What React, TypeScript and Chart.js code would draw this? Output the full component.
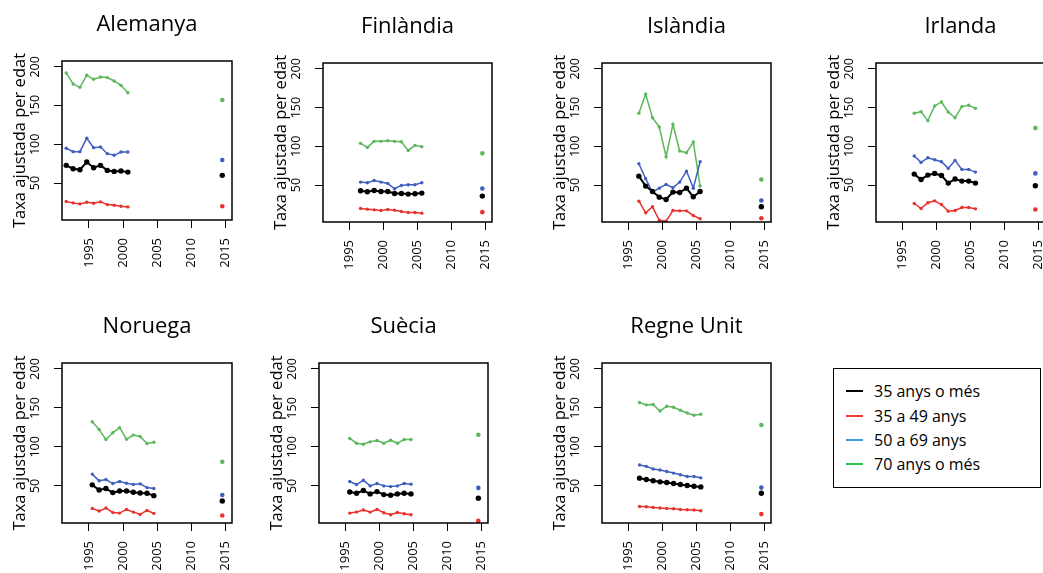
import React, { useEffect, useRef } from 'react';
import { Chart, registerables } from 'chart.js';

Chart.register(...registerables);

// ---------- data ----------
const countries = ['Alemanya', 'Finlàndia', 'Islàndia', 'Irlanda', 'Noruega', 'Suècia', 'Regne Unit'];
const ageGroups = ['35 anys o més', '35 a 49 anys', '50 a 69 anys', '70 anys o més'];
const xTickValues = [1995, 2000, 2005, 2010, 2015];
const yTickValues = [50, 100, 150, 200];
const recentYear = 2014.5;

const yearsAlemanya = [1991.7, 1992.7, 1993.7, 1994.7, 1995.7, 1996.7, 1997.7, 1998.7, 1999.7, 2000.7];
const yearsFinlandia = [1996.6, 1997.6, 1998.6, 1999.6, 2000.6, 2001.6, 2002.6, 2003.6, 2004.6, 2005.6];
const yearsIslandia = [1996.5, 1997.5, 1998.5, 1999.5, 2000.5, 2001.5, 2002.5, 2003.5, 2004.5, 2005.5];
const yearsIrlanda = [1996.7, 1997.7, 1998.7, 1999.7, 2000.7, 2001.7, 2002.7, 2003.7, 2004.7, 2005.7];
const yearsNoruega = [1995.5, 1996.5, 1997.5, 1998.5, 1999.5, 2000.5, 2001.5, 2002.5, 2003.5, 2004.5];
const yearsSuecia = [1995.6, 1996.6, 1997.6, 1998.6, 1999.6, 2000.6, 2001.6, 2002.6, 2003.6, 2004.6];
const yearsRegneUnit = [1996.6, 1997.6, 1998.6, 1999.6, 2000.6, 2001.6, 2002.6, 2003.6, 2004.6, 2005.6];

const alemanya35mes = [72.9, 68.6, 67.3, 77.2, 69.9, 72.9, 66.4, 65.1, 65.6, 64.2];
const alemanya3549 = [26.2, 24.5, 23.2, 25.3, 24.0, 25.8, 22.3, 21.4, 20.1, 19.3];
const alemanya5069 = [95.0, 90.6, 90.6, 107.9, 95.8, 96.7, 88.0, 85.9, 90.2, 90.2];
const alemanya70mes = [192.2, 178.0, 173.6, 189.2, 184.0, 187.0, 186.2, 181.8, 176.2, 166.7];

const finlandia35mes = [42.7, 41.4, 43.1, 41.8, 41.8, 39.2, 39.2, 38.4, 38.8, 39.7];
const finlandia3549 = [19.8, 19.0, 18.1, 17.2, 18.5, 17.7, 15.9, 14.7, 14.7, 13.8];
const finlandia5069 = [53.9, 53.0, 56.0, 53.9, 52.2, 45.3, 49.6, 50.4, 50.4, 53.0];
const finlandia70mes = [103.9, 98.7, 106.5, 106.5, 107.3, 106.5, 106.0, 94.8, 101.3, 99.6];

const islandia35mes = [61.6, 48.7, 41.8, 34.5, 31.5, 41.0, 40.5, 46.1, 34.9, 41.8];
const islandia3549 = [29.3, 14.2, 22.0, 4.7, 3.4, 17.2, 16.8, 16.8, 10.8, 6.5];
const islandia5069 = [77.6, 58.2, 41.0, 46.1, 50.9, 46.6, 53.9, 68.1, 46.1, 80.2];
const islandia70mes = [142.7, 167.2, 137.0, 125.0, 86.6, 128.4, 94.0, 91.8, 105.6, 48.7];

const irlanda35mes = [64.2, 57.3, 62.9, 65.1, 62.5, 52.6, 57.8, 55.2, 55.2, 52.6];
const irlanda3549 = [26.3, 19.8, 27.2, 29.7, 25.0, 16.4, 17.2, 21.1, 21.1, 19.4];
const irlanda5069 = [87.5, 79.3, 85.3, 82.8, 80.2, 71.6, 81.9, 70.3, 70.3, 66.8];
const irlanda70mes = [142.7, 144.8, 133.2, 152.2, 157.3, 144.4, 137.0, 151.3, 153.0, 149.1];

const noruega35mes = [51.3, 44.8, 46.6, 41.4, 43.5, 43.5, 41.8, 40.9, 40.5, 37.5];
const noruega3549 = [21.1, 17.7, 21.6, 15.9, 15.1, 19.8, 16.4, 13.4, 18.5, 14.7];
const noruega5069 = [65.1, 56.5, 58.2, 53.0, 55.6, 53.4, 51.7, 52.6, 47.8, 46.6];
const noruega70mes = [132.3, 122.4, 109.5, 118.1, 124.6, 109.9, 115.1, 113.4, 104.3, 106.0];

const suecia35mes = [42.2, 40.5, 44.0, 39.7, 42.7, 38.8, 37.9, 39.7, 40.5, 39.7];
const suecia3549 = [15.1, 16.4, 19.0, 16.4, 19.8, 15.5, 12.9, 15.9, 14.2, 12.9];
const suecia5069 = [55.6, 51.7, 57.3, 50.0, 53.0, 50.0, 49.1, 50.0, 53.0, 52.2];
const suecia70mes = [110.8, 104.7, 103.4, 106.5, 108.2, 104.7, 108.6, 104.7, 109.5, 109.5];

const regneUnit35mes = [59.9, 58.2, 56.5, 55.2, 54.3, 53.0, 51.7, 50.4, 49.6, 48.7];
const regneUnit3549 = [23.7, 23.3, 22.4, 21.6, 21.1, 20.7, 19.8, 19.4, 19.0, 18.1];
const regneUnit5069 = [76.7, 75.0, 71.6, 70.3, 68.5, 66.4, 64.2, 62.1, 62.1, 60.3];
const regneUnit70mes = [156.9, 153.9, 154.3, 146.1, 152.2, 150.9, 147.0, 143.5, 140.5, 141.8];

// recent (single) values per country, in the order of `countries`
const recent35mes = [60.0, 35.8, 22.0, 49.1, 30.6, 34.1, 40.5];
const recent3549 = [20.1, 15.1, 7.3, 18.5, 12.1, 5.2, 13.8];
const recent5069 = [79.8, 45.7, 30.2, 65.1, 38.4, 47.4, 47.8];
const recent70mes = [157.2, 91.0, 57.3, 123.7, 81.0, 115.5, 128.0];

// tables built from the arrays above
const panelYears = [yearsAlemanya, yearsFinlandia, yearsIslandia, yearsIrlanda, yearsNoruega, yearsSuecia, yearsRegneUnit];
const panelSeries = [
  [alemanya35mes, alemanya3549, alemanya5069, alemanya70mes],
  [finlandia35mes, finlandia3549, finlandia5069, finlandia70mes],
  [islandia35mes, islandia3549, islandia5069, islandia70mes],
  [irlanda35mes, irlanda3549, irlanda5069, irlanda70mes],
  [noruega35mes, noruega3549, noruega5069, noruega70mes],
  [suecia35mes, suecia3549, suecia5069, suecia70mes],
  [regneUnit35mes, regneUnit3549, regneUnit5069, regneUnit70mes],
];
const recentSeries = [recent35mes, recent3549, recent5069, recent70mes];

// ---------- layout & style ----------
const FONT = "'Open Sans', 'DejaVu Sans', sans-serif";
const X_MIN = 1991.08;
const X_MAX = 2015.92;
const Y_MIN = 2.4;
const Y_MAX = 207.6;
const Y_AXIS_W = 62;
const TITLE_H = 60;
const X_AXIS_H = 50;
const PAD_R = 40;

// plot-area boxes [left, top, width, height] in page pixels
const panelBoxes = [
  [62, 61, 170, 159],
  [323, 63, 169, 159],
  [602, 63, 169, 159],
  [876, 63, 169, 159],
  [62, 363, 170, 160],
  [319, 363, 169, 160],
  [602, 363, 169, 160],
];

const lineColors = ['#000000', '#e8322e', '#3f5fbf', '#5cb85c'];
const legendColors = ['#000000', '#ee3b3b', '#3d9ddc', '#2fbf4f'];

const boxPlugin = {
  id: 'plotBox',
  afterDraw(chart: any) {
    const { ctx, chartArea } = chart;
    ctx.save();
    ctx.strokeStyle = '#000';
    ctx.lineWidth = 1.5;
    ctx.strokeRect(chartArea.left, chartArea.top, chartArea.right - chartArea.left, chartArea.bottom - chartArea.top);
    ctx.restore();
  },
};

function Panel({ idx }: { idx: number }) {
  const ref = useRef<HTMLCanvasElement | null>(null);
  const [bl, bt, bw, bh] = panelBoxes[idx];
  const cw = Y_AXIS_W + bw + PAD_R;
  const ch = TITLE_H + bh + X_AXIS_H;

  useEffect(() => {
    if (!ref.current) return;
    const years = panelYears[idx];
    const datasets: any[] = [];
    panelSeries[idx].forEach((vals, s) => {
      const isTotal = s === 0;
      datasets.push({
        label: ageGroups[s],
        data: vals.map((v, i) => ({ x: years[i], y: v })),
        borderColor: lineColors[s],
        backgroundColor: lineColors[s],
        pointBackgroundColor: lineColors[s],
        pointBorderWidth: 0,
        borderWidth: isTotal ? 2 : 1.5,
        pointRadius: isTotal ? 2.7 : 1.7,
        tension: 0,
        showLine: true,
        order: isTotal ? 0 : s,
      });
      datasets.push({
        label: ageGroups[s] + ' ' + recentYear,
        data: [{ x: recentYear, y: recentSeries[s][idx] }],
        borderColor: lineColors[s],
        backgroundColor: lineColors[s],
        pointBackgroundColor: lineColors[s],
        pointBorderWidth: 0,
        pointRadius: isTotal ? 2.7 : 2.3,
        showLine: false,
        order: isTotal ? 0 : s,
      });
    });

    const chart = new Chart(ref.current, {
      type: 'line',
      data: { datasets },
      plugins: [boxPlugin],
      options: {
        animation: false,
        responsive: false,
        maintainAspectRatio: false,
        layout: { padding: { left: 0, top: 0, right: PAD_R, bottom: 0 } },
        plugins: {
          legend: { display: false },
          tooltip: { enabled: false },
          title: {
            display: true,
            text: countries[idx],
            color: '#000',
            fullSize: false,
            font: { family: FONT, size: 22, weight: 'normal', lineHeight: 1.2 },
            padding: { top: 10.8, bottom: 22.8 },
          },
        },
        scales: {
          x: {
            type: 'linear',
            min: X_MIN,
            max: X_MAX,
            afterBuildTicks: (s: any) => {
              s.ticks = xTickValues.map((v) => ({ value: v }));
            },
            afterFit: (s: any) => {
              s.height = X_AXIS_H;
            },
            ticks: {
              autoSkip: false,
              minRotation: 90,
              maxRotation: 90,
              padding: 10,
              color: '#000',
              font: { family: FONT, size: 13 },
              callback: (v: any) => String(v),
            },
            grid: { drawOnChartArea: false, drawTicks: true, tickLength: 8, color: '#000', lineWidth: 1 },
            border: { display: false },
          },
          y: {
            type: 'linear',
            min: Y_MIN,
            max: Y_MAX,
            afterBuildTicks: (s: any) => {
              s.ticks = yTickValues.map((v) => ({ value: v }));
            },
            afterFit: (s: any) => {
              s.width = Y_AXIS_W;
            },
            ticks: {
              autoSkip: false,
              minRotation: 90,
              maxRotation: 90,
              crossAlign: 'center',
              padding: 8,
              color: '#000',
              font: { family: FONT, size: 12.5 },
              callback: (v: any) => String(v),
            },
            grid: { drawOnChartArea: false, drawTicks: true, tickLength: 8, color: '#000', lineWidth: 1 },
            border: { display: false },
            title: {
              display: true,
              text: 'Taxa ajustada per edat',
              color: '#000',
              font: { family: FONT, size: 16.5, lineHeight: 1.2 },
              padding: { top: 10.1, bottom: 0 },
            },
          },
        },
      } as any,
    });
    return () => chart.destroy();
  }, [idx]);

  return (
    <canvas
      ref={ref}
      width={cw}
      height={ch}
      style={{ position: 'absolute', left: bl - Y_AXIS_W, top: bt - TITLE_H, width: cw, height: ch }}
    />
  );
}

const legendBox = { left: 833, top: 368, width: 208, height: 120 };
const legendRowCenters = [22, 47, 71, 95];

function Legend() {
  return (
    <div
      style={{
        position: 'absolute',
        left: legendBox.left,
        top: legendBox.top,
        width: legendBox.width,
        height: legendBox.height,
        border: '1.5px solid #000',
        boxSizing: 'border-box',
        background: '#fff',
      }}
    >
      {ageGroups.map((g, i) => (
        <div
          key={g}
          style={{
            position: 'absolute',
            left: 0,
            top: legendRowCenters[i] - 12,
            height: 24,
            width: '100%',
          }}
        >
          <div
            style={{
              position: 'absolute',
              left: 12,
              top: 11,
              width: 17,
              height: 2,
              background: legendColors[i],
            }}
          />
          <div
            style={{
              position: 'absolute',
              left: 40,
              top: 0,
              height: 24,
              lineHeight: '24px',
              fontFamily: FONT,
              fontSize: 16,
              color: '#000',
              whiteSpace: 'nowrap',
            }}
          >
            {g}
          </div>
        </div>
      ))}
    </div>
  );
}

export default function App() {
  return (
    <div
      style={{
        position: 'fixed',
        left: 0,
        top: 0,
        width: 1043,
        height: 573,
        overflow: 'hidden',
        background: '#fff',
      }}
    >
      {countries.map((c, i) => (
        <Panel key={c} idx={i} />
      ))}
      <Legend />
    </div>
  );
}
